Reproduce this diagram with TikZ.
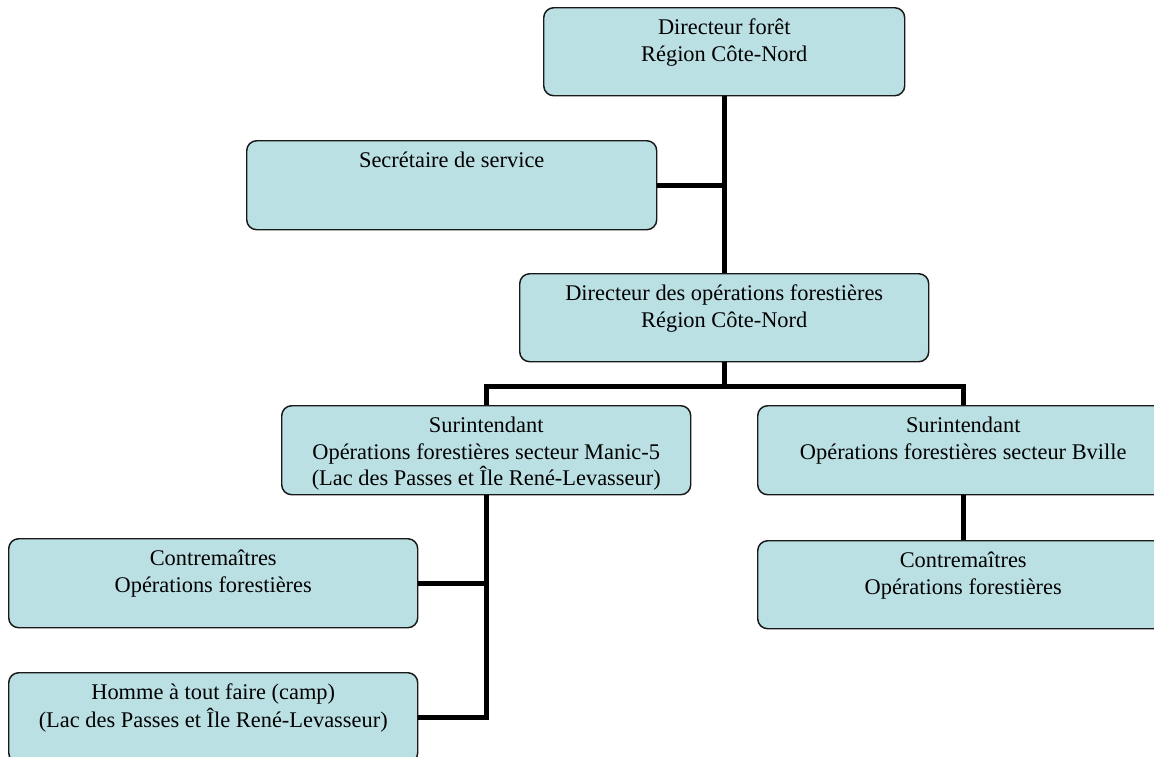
\documentclass[tikz,border=0pt]{standalone}
\usepackage{fontspec}
\setmainfont{Liberation Serif}
\usetikzlibrary{calc}
\definecolor{boxfill}{RGB}{187,224,227}
\definecolor{boxline}{RGB}{25,25,25}
\tikzset{
  x=0.75pt, y=-0.75pt,
  orgbox/.style={draw=boxline, line width=1.1pt, fill=boxfill, rounded corners=7.5pt, inner sep=0pt, anchor=north west},
  orgtext/.style={anchor=north, inner sep=0pt, align=center, font=\fontsize{16.8}{20.2}\selectfont},
  link/.style={line width=3.75pt, black},
}
\newcommand\orgbox[6]{%
  \node[orgbox, minimum width={(#4-#2)*0.75pt}, minimum height={(#5-#3)*0.75pt}] (#1) at (#2,#3) {};
  \node[orgtext] (#1-text) at ($(#1.north)+(0,8)$) {\strut #6};
}
\begin{document}
\begin{tikzpicture}
\useasboundingbox (0,0) rectangle (1154,757);
\clip (0,0) rectangle (1154,757);
\orgbox{d1}{543}{7}{904}{95}{Directeur forêt\\Région Côte-Nord}
\orgbox{sec}{246}{140}{656}{229}{Secrétaire de service}
\orgbox{d2}{519}{273}{928}{361}{Directeur des opérations forestières\\Région Côte-Nord}
\orgbox{s1}{281}{405}{690}{494}{Surintendant\\Opérations forestières secteur Manic-5\\(Lac des Passes et Île René-Levasseur)}
\orgbox{s2}{757}{405}{1168}{494}{Surintendant\\Opérations forestières secteur Bville}
\orgbox{c1}{8}{538}{417}{627}{Contremaîtres\\Opérations forestières}
\orgbox{c2}{757}{540}{1168}{628}{Contremaîtres\\Opérations forestières}
\orgbox{h}{8}{672}{417}{762}{Homme à tout faire (camp)\\(Lac des Passes et Île René-Levasseur)}
\draw[link] (d1.south) -- (d2.north);
\draw[link] (sec.east) -- (sec.east -| d1.south);
\path (d2.south) ++(0,24) coordinate (bus);
\draw[link] (d2.south) -- (bus);
\draw[link] (s1.north) |- (bus) -| (s2.north);
\draw[link] (s2.south) -- (s2.south |- c2.north);
\draw[link] (s1.south) |- (c1.east);
\draw[link] (s1.south) |- (h.east);
\end{tikzpicture}
\end{document}
